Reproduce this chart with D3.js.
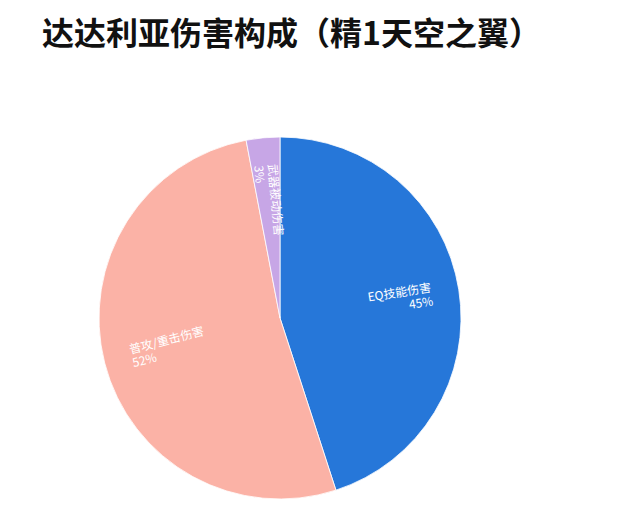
<!DOCTYPE html>
<html>
<head>
<meta charset="utf-8">
<style>
  body { margin: 0; background: #fff; }
  text { font-family: "Noto Sans CJK SC", "Noto Sans", sans-serif; }
</style>
</head>
<body>
<svg width="627" height="515"></svg>
<script src="https://d3js.org/d3.v7.min.js"></script>
<script>
// data
var categories = ["EQ技能伤害", "普攻/重击伤害", "武器被动伤害"];
var shares = [45, 52, 3];
var colors = ["#2677d9", "#fbb2a6", "#c7a6e6"];
var title = "达达利亚伤害构成（精1天空之翼）";

var svg = d3.select("svg"),
    cx = 280, cy = 318, radius = 181;

svg.append("text")
    .attr("x", 42)
    .attr("y", 45)
    .attr("font-size", 32)
    .attr("font-weight", "bold")
    .attr("fill", "#111")
    .text(title);

var pie = d3.pie().sort(null).value(function(d) { return d; });
var arc = d3.arc().innerRadius(0).outerRadius(radius);
var arcs = pie(shares);

var g = svg.append("g").attr("transform", "translate(" + cx + "," + cy + ")");

g.selectAll("path")
  .data(arcs)
  .enter().append("path")
    .attr("d", arc)
    .attr("fill", function(d, i) { return colors[i]; })
    .attr("stroke", "#fff")
    .attr("stroke-width", 0.8);

// radial labels, anchored near the outer rim
var labelR = radius * 0.85;
var lab = g.selectAll("g.lab")
  .data(arcs)
  .enter().append("g")
    .attr("class", "lab")
    .attr("transform", function(d) {
      var a = (d.startAngle + d.endAngle) / 2;
      var deg = a * 180 / Math.PI;
      var x = labelR * Math.sin(a), y = -labelR * Math.cos(a);
      var rot = deg < 180 ? deg - 90 : deg - 270;
      return "translate(" + x + "," + y + ") rotate(" + rot + ")";
    });

lab.each(function(d, i) {
  var a = (d.startAngle + d.endAngle) / 2;
  var anchor = a < Math.PI ? "end" : "start";
  var t = d3.select(this).append("text")
      .attr("fill", "#fff")
      .attr("font-size", 12)
      .attr("text-anchor", anchor);
  t.append("tspan").attr("x", 0).attr("dy", "-0.2em").text(categories[i]);
  t.append("tspan").attr("x", 0).attr("dy", "1.15em").text(shares[i] + "%");
});
</script>
</body>
</html>
